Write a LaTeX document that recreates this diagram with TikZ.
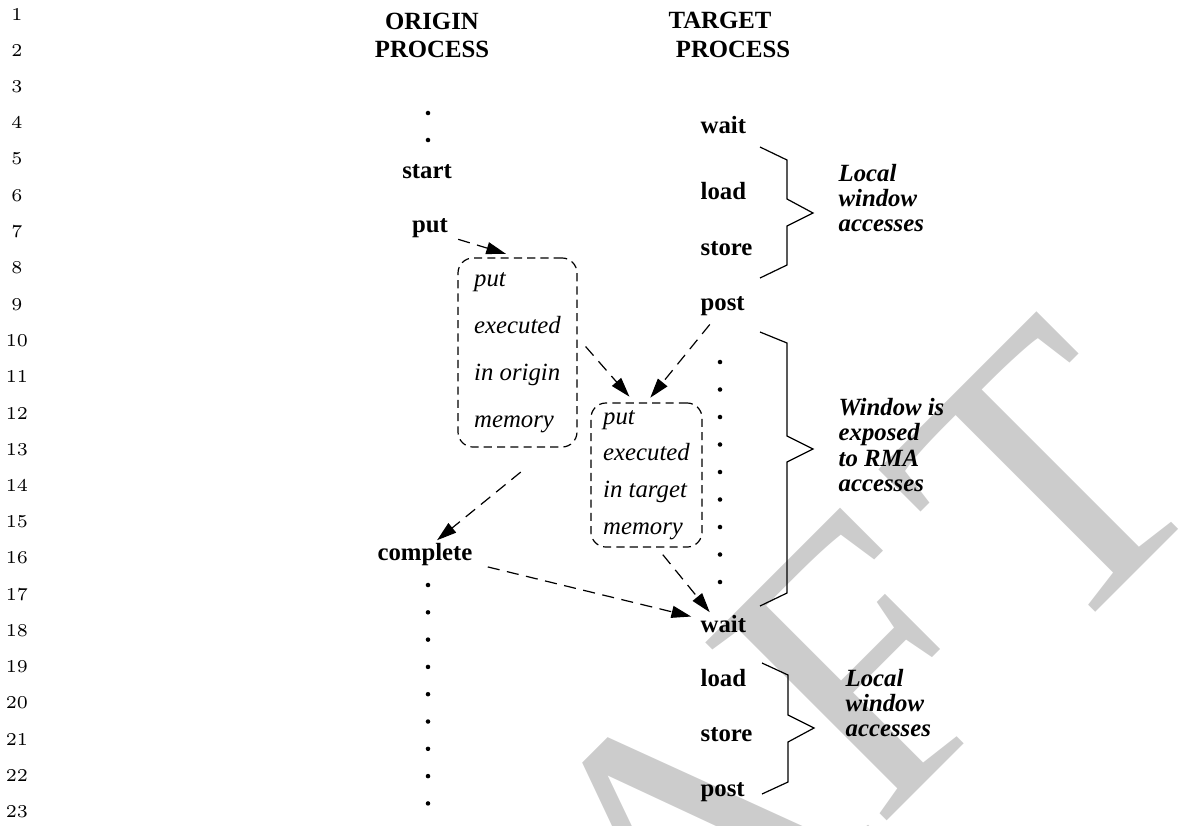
\documentclass[tikz,border=0pt]{standalone}
\usepackage{fontspec}
\newfontfamily\tfont{Liberation Serif}
\usetikzlibrary{arrows.meta}

\begin{document}
\begin{tikzpicture}[x=0.3311pt,y=-0.3311pt,
    proc/.style={font=\tfont\bfseries\fontsize{8.2}{9}\selectfont,inner sep=1pt,text height=5.6pt,text depth=1.8pt},
    prochead/.style={proc},
    memo/.style={draw,dash pattern=on 2.7pt off 1.7pt,rounded corners=5pt,align=left,inner sep=0pt},
    note/.style={font=\tfont\bfseries\itshape\fontsize{8.2}{8.3}\selectfont,align=left,anchor=west,inner sep=1pt},
    seqdot/.style={circle,fill,inner sep=0pt,minimum size=1.5pt},
    lnum/.style={font=\fontsize{6}{7}\selectfont,inner sep=0pt},
    zigbrace/.style={line width=0.4pt,line join=miter},
    flow/.style={dash pattern=on 4pt off 2.5pt,-{Triangle[length=6.5pt,width=4pt]}},
    wmark/.style={rotate=45,anchor=base east,inner sep=0pt,text=black!20,font=\tfont\fontsize{128.5}{130}\selectfont}]
   \useasboundingbox (0,0) rectangle (1179,825);
   \begin{scope}
     \clip (0,0) rectangle (1179,825);
     \node[wmark] (draft) at (1222,486) {DRAF\kern11pt T};
   \end{scope}

   \foreach \n in {1,...,23}
     \node[lnum] (ln\n) at (17,{14+(\n-1)*36.27}) {\n};

   \node[prochead] (ohead1) at (432,24) {ORIGIN};
   \node[prochead] (ohead2) at (432,52) {PROCESS};
   \node[prochead] (thead1) at (720,23) {TARGET};
   \node[prochead] (thead2) at (733,52) {PROCESS};

   \node[seqdot] (od1) at (428,113) {};
   \node[seqdot] (od2) at (428,140) {};
   \node[proc] (ostart) at (427,173) {start};
   \node[proc] (oput) at (430,227) {put};
   \node[memo,minimum width=39.4pt,minimum height=62.6pt,
         font=\tfont\itshape\fontsize{8.2}{15.6}\selectfont] (origbox) at (517.5,352.5)
         {put\\executed\\in origin\\memory};
   \node[proc] (ocomplete) at (425,555) {complete};
   \foreach \k in {0,...,8}
     \node[seqdot] (ob\k) at (428,{585+27.3*\k}) {};

   \node[proc,anchor=west] (twait) at (697,128) {wait};
   \node[proc,anchor=west] (tload) at (697,194) {load};
   \node[proc,anchor=west] (tstore) at (697,250) {store};
   \node[proc,anchor=west] (tpost) at (697,305) {post};
   \foreach \k in {0,...,8}
     \node[seqdot] (td\k) at (720,{362+27.5*\k}) {};
   \node[memo,minimum width=36.8pt,minimum height=47.7pt,
         font=\tfont\itshape\fontsize{8.2}{12.15}\selectfont] (targbox) at (646.5,475)
         {put\\executed\\in target\\memory};
   \node[proc,anchor=west] (twait2) at (697,627) {wait};
   \node[proc,anchor=west] (tload2) at (697,681) {load};
   \node[proc,anchor=west] (tstore2) at (697,736) {store};
   \node[proc,anchor=west] (tpost2) at (697,791) {post};

   \draw[zigbrace] (760,147) -- (787,160) -- (787,199) -- (813,213) -- (787,226) -- (787,265) -- (760,278);
   \draw[zigbrace] (760,332) -- (787,343) -- (787,436) -- (813,449) -- (787,462) -- (787,593) -- (760,606);
   \draw[zigbrace] (762,663) -- (788,675) -- (788,715) -- (814,728) -- (788,742) -- (788,782) -- (762,794);

   \node[note] (tnote1) at (835,198) {Local\\window\\accesses};
   \node[note] (tnote2) at (835,445) {Window is\\exposed\\to RMA\\accesses};
   \node[note] (tnote3) at (842,703) {Local\\window\\accesses};

   \path[flow]
    ([yshift=1.5pt]oput.south east) edge[shorten <=2.3pt,shorten >=4pt] (origbox.north)
    ([yshift=5pt]origbox.east) edge[shorten <=4pt,shorten >=2.5pt] ([xshift=-4pt]targbox.north)
    ([xshift=-3pt]tpost.south) edge[shorten <=2pt,shorten >=2pt] (targbox.north)
    ([xshift=11pt]origbox.south) edge[shorten <=12.8pt] ([xshift=4pt]ocomplete.north)
    ([yshift=-3pt]ocomplete.east) edge[shorten <=4pt,shorten >=2pt] ([yshift=3pt]twait2.west)
    ([xshift=3.5pt]targbox.south) edge[shorten <=3pt] ([xshift=-4.5pt]twait2.north);
\end{tikzpicture}
\end{document}
